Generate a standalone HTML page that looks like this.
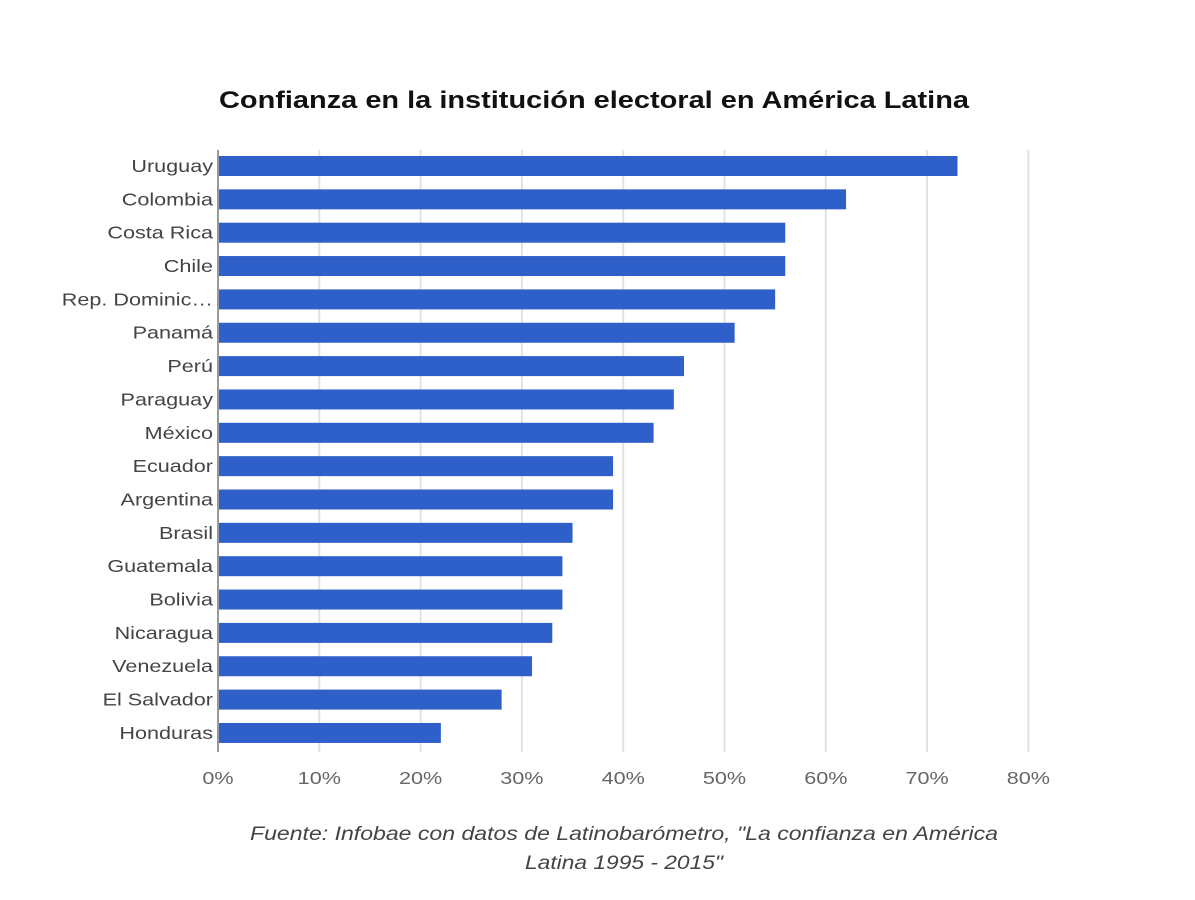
<!DOCTYPE html>
<html><head><meta charset="utf-8"><style>body{margin:0;background:#fff}svg{display:block}</style></head><body>
<svg width="1195" height="900" xmlns="http://www.w3.org/2000/svg" font-family="Liberation Sans, sans-serif">
<rect width="1195" height="900" fill="#fff"/>
<text x="594" y="108" text-anchor="middle" font-size="24" font-weight="bold" fill="#111" textLength="750" lengthAdjust="spacingAndGlyphs">Confianza en la institución electoral en América Latina</text>
<g stroke="#e2e2e2" stroke-width="2">
<line x1="319.3" y1="150" x2="319.3" y2="752"/><line x1="420.6" y1="150" x2="420.6" y2="752"/><line x1="521.9" y1="150" x2="521.9" y2="752"/><line x1="623.2" y1="150" x2="623.2" y2="752"/><line x1="724.5" y1="150" x2="724.5" y2="752"/><line x1="825.8" y1="150" x2="825.8" y2="752"/><line x1="927.1" y1="150" x2="927.1" y2="752"/><line x1="1028.4" y1="150" x2="1028.4" y2="752"/>
</g>
<g fill="#2f5fc9" id="bars"></g>
<line x1="218" y1="150" x2="218" y2="752" stroke="#999" stroke-width="2"/>
<g font-size="18" fill="#444" text-anchor="end" id="labels" transform="translate(213,0) scale(1.2,1) translate(-213,0)"></g>
<g font-size="18" fill="#666" text-anchor="middle" id="ticks"></g>
<g font-size="19" fill="#444" font-style="italic" text-anchor="middle">
<text x="624" y="840" textLength="748" lengthAdjust="spacingAndGlyphs">Fuente: Infobae con datos de Latinobarómetro, "La confianza en América</text>
<text x="624" y="869" textLength="198" lengthAdjust="spacingAndGlyphs">Latina 1995 - 2015"</text>
</g>
<script>
var d=[["Uruguay",73],["Colombia",62],["Costa Rica",56],["Chile",56],["Rep. Dominic…",55],["Panamá",51],["Perú",46],["Paraguay",45],["México",43],["Ecuador",39],["Argentina",39],["Brasil",35],["Guatemala",34],["Bolivia",34],["Nicaragua",33],["Venezuela",31],["El Salvador",28],["Honduras",22]];
var ns="http://www.w3.org/2000/svg",b=document.getElementById("bars"),l=document.getElementById("labels"),tk=document.getElementById("ticks");
d.forEach(function(r,i){var c=166+i*33.35;var e=document.createElementNS(ns,"rect");e.setAttribute("x",218);e.setAttribute("y",c-10);e.setAttribute("height",20);e.setAttribute("width",r[1]*10.13);b.appendChild(e);
var t=document.createElementNS(ns,"text");t.setAttribute("x",213);t.setAttribute("y",c+6);t.textContent=r[0];l.appendChild(t);});
for(var k=0;k<=8;k++){var x=218+k*101.3;var t=document.createElementNS(ns,"text");t.setAttribute("x",x);t.setAttribute("y",784);t.setAttribute("transform","translate("+x+",0) scale(1.2,1) translate("+(-x)+",0)");t.textContent=(k*10)+"%";tk.appendChild(t);}
</script>
</svg>
</body></html>
